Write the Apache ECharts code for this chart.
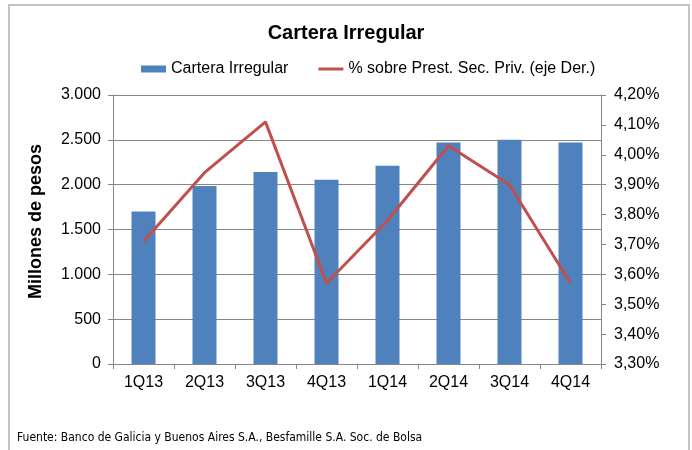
<!DOCTYPE html>
<html>
<head>
<meta charset="utf-8">
<script src="https://cdn.jsdelivr.net/npm/echarts@6/dist/echarts.min.js"></script>
<style>
  html, body { margin: 0; padding: 0; background: #fff; }
  #chart { width: 692px; height: 450px; }
</style>
</head>
<body>
<div id="chart"></div>
<script>
// datos
var trimestres = ['1Q13', '2Q13', '3Q13', '4Q13', '1Q14', '2Q14', '3Q14', '4Q14'];
var carteraIrregular = [1700, 1985, 2140, 2055, 2210, 2470, 2500, 2470];
var pctPrestamos = [3.71, 3.94, 4.11, 3.57, 3.78, 4.03, 3.90, 3.57];
var fuente = 'Fuente: Banco de Galicia y Buenos Aires S.A., Besfamille S.A. Soc. de Bolsa';

var chart = echarts.init(document.getElementById('chart'));

// 3000 -> "3.000"
function miles(v) {
  return String(v).replace(/\B(?=(\d{3})+(?!\d))/g, '.');
}

var gris = '#868686';
var fuenteBase = 'Arial, "Liberation Sans", sans-serif';

var option = {
  backgroundColor: '#fff',
  animation: false,
  textStyle: { fontFamily: fuenteBase },
  title: {
    text: 'Cartera Irregular',
    left: 'center',
    top: 23,
    padding: 0,
    textStyle: { fontSize: 20, fontWeight: 'bold', color: '#000', fontFamily: fuenteBase }
  },
  legend: {
    left: 141,
    top: 61,
    padding: 0,
    itemGap: 30,
    itemWidth: 25,
    itemHeight: 7,
    textStyle: { fontSize: 16, color: '#000', fontFamily: fuenteBase },
    data: [
      { name: 'Cartera Irregular', icon: 'rect' },
      // linea simple sin marcador
      { name: '% sobre Prest. Sec. Priv. (eje Der.)', icon: 'path://M0,0 L25,0 L25,3 L0,3 Z' }
    ]
  },
  grid: { left: 113, right: 91, top: 95, bottom: 86 },
  xAxis: {
    type: 'category',
    data: trimestres,
    axisLine: { lineStyle: { color: gris, width: 1 } },
    axisTick: { show: true, length: 5, lineStyle: { color: gris } },
    axisLabel: { color: '#000', fontSize: 16, margin: 11 }
  },
  yAxis: [
    {
      type: 'value',
      min: 0,
      max: 3000,
      interval: 500,
      name: 'Millones de pesos',
      nameLocation: 'middle',
      nameGap: 68,
      nameTextStyle: { fontSize: 18, fontWeight: 'bold', color: '#000', padding: [0, 0, 0, 16] },
      axisLine: { show: true, lineStyle: { color: gris } },
      axisTick: { show: true, length: 5, lineStyle: { color: gris } },
      axisLabel: { color: '#000', fontSize: 16, margin: 12, formatter: miles },
      splitLine: { lineStyle: { color: gris, width: 1 } }
    },
    {
      type: 'value',
      min: 3.3,
      max: 4.2,
      interval: 0.1,
      position: 'right',
      axisLine: { show: true, lineStyle: { color: gris } },
      axisTick: { show: true, length: 5, lineStyle: { color: gris } },
      axisLabel: {
        color: '#000',
        fontSize: 16,
        margin: 13,
        formatter: function (v) { return v.toFixed(2).replace('.', ',') + '%'; }
      },
      splitLine: { show: false }
    }
  ],
  series: [
    {
      name: 'Cartera Irregular',
      type: 'bar',
      yAxisIndex: 0,
      data: carteraIrregular,
      barWidth: 24,
      itemStyle: { color: '#4F81BD' }
    },
    {
      name: '% sobre Prest. Sec. Priv. (eje Der.)',
      type: 'line',
      yAxisIndex: 1,
      data: pctPrestamos,
      symbol: 'none',
      lineStyle: { color: '#C0504D', width: 3 },
      itemStyle: { color: '#C0504D' }
    }
  ],
  graphic: [
    {
      type: 'rect',
      shape: { x: 9, y: 5, width: 680, height: 500 },
      style: { fill: 'none', stroke: '#c4c4c4', lineWidth: 2 },
      silent: true
    },
    {
      type: 'text',
      left: 17,
      top: 432,
      style: {
        text: fuente,
        fontSize: 12,
        fill: '#000',
        fontFamily: '"Liberation Sans Narrow", "Arial Narrow", "DejaVu Sans Condensed", sans-serif'
      }
    }
  ]
};

chart.setOption(option);
</script>
</body>
</html>
